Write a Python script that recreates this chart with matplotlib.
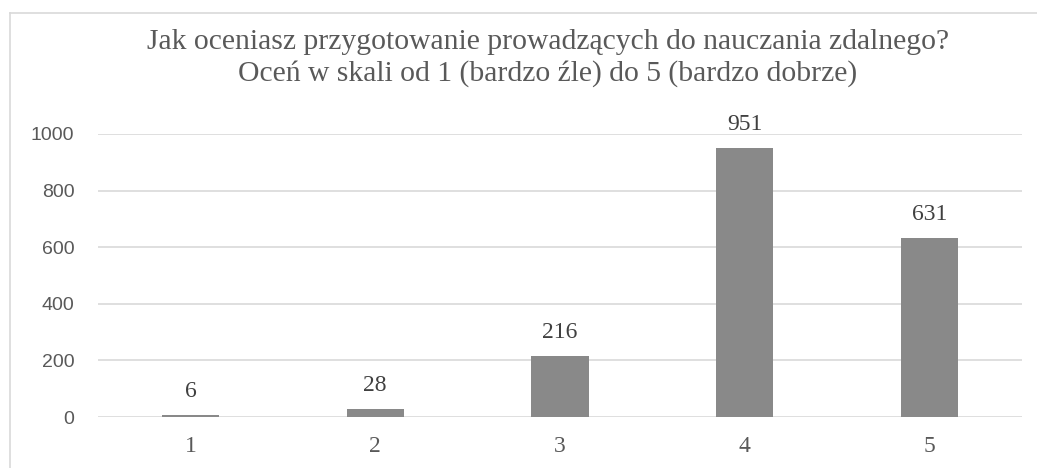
import matplotlib
matplotlib.use("Agg")
import matplotlib.pyplot as plt

categories = ["1", "2", "3", "4", "5"]
values = [6, 28, 216, 951, 631]
yticks = [0, 200, 400, 600, 800, 1000]
title = "Jak oceniasz przygotowanie prowadzących do nauczania zdalnego?\nOceń w skali od 1 (bardzo źle) do 5 (bardzo dobrze)"

W, H = 1037, 468
fig = plt.figure(figsize=(W / 100, H / 100), dpi=100)
ax = fig.add_axes([98 / W, 1 - 417 / H, (1022 - 98) / W, (417 - 134) / H])

x = list(range(len(categories)))
ax.bar(x, values, width=0.31, color="#898989", zorder=3)
ax.set_xlim(-0.5, len(categories) - 0.5)
ax.set_ylim(0, 1000)
ax.set_yticks(yticks)
ax.set_yticklabels([str(t) for t in yticks], fontsize=14, color="#595959",
                   family=["Liberation Sans", "DejaVu Sans"])
ax.set_xticks(x)
ax.set_xticklabels(categories, fontsize=17, color="#595959", family="Liberation Serif")
ax.tick_params(axis="both", length=0)
ax.tick_params(axis="y", pad=17)
ax.tick_params(axis="x", pad=14)
ax.grid(axis="y", color="#d9d9d9", linewidth=1.2, zorder=0)
for s in ax.spines.values():
    s.set_visible(False)

for xi, v in zip(x, values):
    ax.annotate(str(v), (xi, v), xytext=(0, 9.5), textcoords="offset points",
                ha="center", va="bottom", fontsize=17, color="#404040",
                family="Liberation Serif")

fig.text(548 / W, 1 - 58 / H, title, ha="center", va="center", fontsize=21.3,
         color="#595959", family="Liberation Serif", linespacing=1.27)

# chart frame (left and top edges visible)
fig.add_artist(plt.Line2D([10 / W, 10 / W], [0, 1 - 13 / H], transform=fig.transFigure,
                          color="#d9d9d9", linewidth=1.2))
fig.add_artist(plt.Line2D([10 / W, 1], [1 - 13 / H, 1 - 13 / H], transform=fig.transFigure,
                          color="#d9d9d9", linewidth=1.2))

fig.savefig("out.png", dpi=100)
